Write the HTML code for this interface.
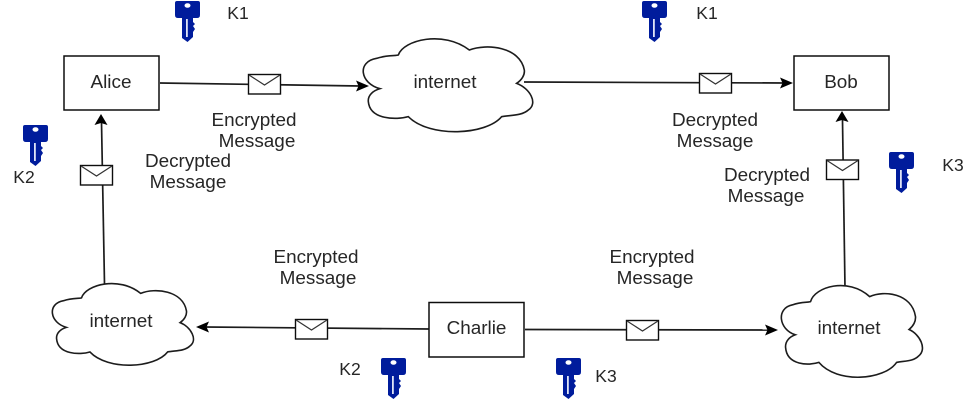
<!DOCTYPE html>
<html><head><meta charset="utf-8"><style>
html,body{margin:0;padding:0;background:#fff}
svg{display:block}
text{font-family:"Liberation Sans",sans-serif;font-size:18.9px;fill:#262626;text-anchor:middle}
text.k{font-size:17.5px}
.n{fill:none;stroke:#1c1c1c;stroke-width:1.7}
</style></head><body>
<svg width="980" height="400" viewBox="0 0 980 400" xmlns="http://www.w3.org/2000/svg">
<defs>
<filter id="b" x="0" y="0" width="100%" height="100%"><feGaussianBlur stdDeviation="0.32"/></filter>
<path id="c" d="M120 206C60 190 50 125 110 115C140 105 170 108 175 105C190 60 310 30 388 90C440 70 540 80 553 150C555 165 545 180 530 190C570 205 595 250 565 270C545 288 510 285 485 290C440 345 270 355 205 290C170 300 90 300 85 245C83 225 100 212 120 206Z" fill="#fff" stroke="#1c1c1c" stroke-width="1.600" vector-effect="non-scaling-stroke"/>
<g id="k">
<path d="M2 1H23Q25 1 25 3V15Q25 18 22 18H18V22L20 24L18 26L20 29L18 32V37L12.500 42L7 38V18H3Q0 18 0 15V3Q0 1 2 1Z" fill="#001e9c"/>
<ellipse cx="12.500" cy="5.500" rx="3" ry="2.300" fill="#fff"/>
<rect x="11" y="19" width="1.800" height="18" fill="#dfe4f6"/>
</g>
<g id="e">
<rect x="0.500" y="0.500" width="32" height="19.500" fill="#fff" stroke="#111" stroke-width="1.400"/>
<path d="M1 1L16.500 11L32 1" fill="none" stroke="#333" stroke-width="1.200"/>
</g>
</defs>
<g filter="url(#b)">
<rect width="980" height="400" fill="#fff"/>
<path class="n" d="M160 83L360 86"/>
<path d="M369 86L356 80.500L358.500 86L356 91.500Z" fill="#000"/>
<path class="n" d="M524 82L785 83"/>
<path d="M793 83L780 77.500L782.500 83L780 88.500Z" fill="#000"/>
<path class="n" d="M104.500 284L101.500 122"/>
<path d="M101 114L94.500 125L101 123L107.500 125Z" fill="#000"/>
<path class="n" d="M845 288L842.500 120"/>
<path d="M842 111L835.500 122L842 120L848.500 122Z" fill="#000"/>
<path class="n" d="M429 329L204 327"/>
<path d="M196 327L209 321.500L206.500 327L209 332.500Z" fill="#000"/>
<path class="n" d="M525 329.500L770 330"/>
<path d="M778 330L765 324.500L767.500 330L765 335.500Z" fill="#000"/>

<rect x="64" y="56" width="95" height="54" fill="#fff" stroke="#111" stroke-width="1.500"/>
<rect x="794" y="56" width="95" height="54" fill="#fff" stroke="#111" stroke-width="1.500"/>
<rect x="429" y="302.500" width="95" height="54.500" fill="#fff" stroke="#111" stroke-width="1.500"/>

<use href="#c" transform="translate(340 20) scale(.3333)"/>
<use href="#c" transform="translate(33 267) scale(.2775 .293)"/>
<use href="#c" transform="translate(762 267) scale(.2775 .329)"/>

<use href="#e" x="248" y="74"/>
<use href="#e" x="699" y="73"/>
<use href="#e" x="80" y="165"/>
<use href="#e" x="826" y="159.500"/>
<use href="#e" x="295" y="319"/>
<use href="#e" x="626" y="320"/>

<use href="#k" x="175" y="0"/>
<use href="#k" x="642" y="0"/>
<use href="#k" x="23" y="124"/>
<use href="#k" x="889" y="151"/>
<use href="#k" x="381" y="357"/>
<use href="#k" x="556" y="357"/>

<text x="111" y="88">Alice</text>
<text x="841" y="88">Bob</text>
<text x="476.500" y="334">Charlie</text>
<text x="445" y="88">internet</text>
<text x="121" y="327">internet</text>
<text x="849" y="334">internet</text>

<text class="k" x="238" y="19">K1</text>
<text class="k" x="707" y="19">K1</text>
<text class="k" x="24" y="183">K2</text>
<text class="k" x="953" y="171">K3</text>
<text class="k" x="350" y="375">K2</text>
<text class="k" x="606" y="382">K3</text>

<text x="254" y="126">Encrypted</text>
<text x="257" y="147">Message</text>
<text x="188" y="167">Decrypted</text>
<text x="188" y="188">Message</text>
<text x="715" y="126">Decrypted</text>
<text x="715" y="147">Message</text>
<text x="767" y="181">Decrypted</text>
<text x="766" y="202">Message</text>
<text x="316" y="263">Encrypted</text>
<text x="318" y="284">Message</text>
<text x="652" y="263">Encrypted</text>
<text x="655" y="284">Message</text>
</g>
</svg>
</body></html>
